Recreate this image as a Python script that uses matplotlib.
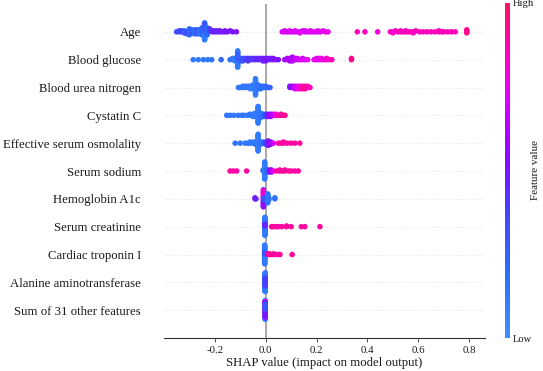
import matplotlib
matplotlib.use("Agg")
import matplotlib.pyplot as plt
import numpy as np
from matplotlib.colors import LinearSegmentedColormap
from matplotlib.cm import ScalarMappable

plt.rcParams['font.family'] = ['Liberation Serif', 'DejaVu Serif']
plt.rcParams['axes.unicode_minus'] = False

# feature names, top row first
features = ["Age", "Blood glucose", "Blood urea nitrogen", "Cystatin C",
            "Effective serum osmolality", "Serum sodium", "Hemoglobin A1c",
            "Serum creatinine", "Cardiac troponin I", "Alanine aminotransferase",
            "Sum of 31 other features"]

# each feature: SHAP value, number of samples at that value, normalised feature value (0 low .. 1 high)
age_shap = [-0.350, -0.340, -0.330, -0.320, -0.310, -0.300, -0.290, -0.280, -0.270, -0.260,
            -0.250, -0.240, -0.240, -0.230, -0.220, -0.210, -0.200, -0.190, -0.180, -0.170,
            -0.160, -0.150, -0.140, -0.130, -0.115,
            0.065, 0.075, 0.085, 0.095, 0.105, 0.115, 0.125, 0.135, 0.145, 0.155,
            0.165, 0.175, 0.185, 0.195, 0.205, 0.215, 0.225, 0.235, 0.245,
            0.360, 0.390, 0.440, 0.490, 0.500, 0.510, 0.520, 0.530, 0.540, 0.550,
            0.560, 0.570, 0.580, 0.590, 0.605, 0.620, 0.635, 0.650, 0.665, 0.680,
            0.690, 0.700, 0.715, 0.730, 0.745, 0.790]
age_count = [1, 2, 2, 3, 3, 4, 4, 5, 5, 5,
             8, 10, 8, 5, 3, 2, 2, 2, 2, 1,
             2, 1, 1, 1, 1,
             1, 2, 1, 2, 1, 2, 1, 2, 1, 2,
             1, 2, 1, 1, 2, 1, 1, 1, 1,
             1, 1, 1, 1, 2, 1, 1, 2, 1, 2,
             1, 1, 2, 1, 1, 1, 1, 1, 1, 2,
             1, 1, 1, 1, 1, 4]
age_value = [0.35, 0.30, 0.40, 0.25, 0.35, 0.20, 0.30, 0.18, 0.28, 0.15,
             0.22, 0.12, 0.30, 0.20, 0.40, 0.45, 0.48, 0.45, 0.50, 0.48,
             0.50, 0.48, 0.50, 0.50, 0.52,
             0.70, 0.72, 0.68, 0.72, 0.70, 0.74, 0.70, 0.72, 0.74, 0.70,
             0.72, 0.75, 0.72, 0.74, 0.72, 0.75, 0.73, 0.76, 0.75,
             0.85, 0.85, 0.80, 0.85, 0.82, 0.85, 0.84, 0.86, 0.84, 0.85,
             0.86, 0.84, 0.85, 0.86, 0.85, 0.86, 0.84, 0.86, 0.85, 0.86,
             0.85, 0.86, 0.85, 0.86, 0.85, 0.92]

bg_shap = [-0.285, -0.265, -0.245, -0.228, -0.212, -0.175, -0.140, -0.130, -0.120, -0.110,
           -0.110, -0.100, -0.090, -0.080, -0.070, -0.060, -0.050, -0.040, -0.030, -0.020,
           -0.010, 0.000, 0.010, 0.020, 0.030, 0.040, 0.050, 0.075, 0.085, 0.095,
           0.105, 0.115, 0.125, 0.135, 0.145, 0.155, 0.165, 0.190, 0.200, 0.210,
           0.220, 0.230, 0.240, 0.250, 0.260, 0.337]
bg_count = [1, 1, 1, 1, 1, 1, 1, 2, 3, 10,
            4, 3, 3, 2, 3, 2, 2, 2, 2, 2,
            3, 3, 2, 2, 2, 1, 1, 1, 2, 3,
            4, 2, 2, 1, 2, 1, 1, 1, 2, 2,
            2, 1, 2, 1, 1, 2]
bg_value = [0.12, 0.12, 0.15, 0.12, 0.15, 0.22, 0.15, 0.15, 0.12, 0.12,
            0.25, 0.25, 0.32, 0.35, 0.40, 0.42, 0.42, 0.45, 0.45, 0.47,
            0.47, 0.50, 0.50, 0.48, 0.50, 0.52, 0.50, 0.58, 0.62, 0.60,
            0.62, 0.65, 0.68, 0.70, 0.70, 0.72, 0.74, 0.75, 0.76, 0.74,
            0.78, 0.80, 0.82, 0.84, 0.86, 0.93]

bun_shap = [-0.107, -0.100, -0.090, -0.080, -0.070, -0.060, -0.050, -0.040, -0.030, -0.020,
            -0.010, 0.000, 0.010, 0.017, 0.095, 0.105, 0.115, 0.125, 0.135, 0.145,
            0.155, 0.165, 0.174]
bun_count = [1, 1, 2, 2, 2, 3, 4, 14, 4, 3, 2, 2, 1, 1, 2, 2, 3, 3, 3, 3, 3, 2, 1]
bun_value = [0.15, 0.15, 0.15, 0.12, 0.15, 0.12, 0.12, 0.12, 0.15, 0.18,
             0.20, 0.20, 0.22, 0.25, 0.50, 0.58, 0.68, 0.75, 0.82, 0.88,
             0.90, 0.88, 0.85]

cys_shap = [-0.153, -0.140, -0.125, -0.108, -0.095, -0.088, -0.075, -0.062, -0.050, -0.040,
            -0.030, -0.020, -0.010, 0.000, 0.010, 0.020, 0.030, 0.040, 0.050, 0.060,
            0.070, 0.076]
cys_count = [1, 1, 1, 1, 1, 1, 1, 2, 3, 4, 16, 5, 3, 3, 3, 3, 2, 2, 1, 2, 1, 1]
cys_value = [0.15, 0.15, 0.12, 0.15, 0.12, 0.15, 0.12, 0.15, 0.12, 0.12,
             0.12, 0.15, 0.20, 0.35, 0.50, 0.58, 0.68, 0.82, 0.86, 0.90,
             0.90, 0.92]

osm_shap = [-0.120, -0.100, -0.081, -0.070, -0.062, -0.050, -0.040, -0.030, -0.020, -0.010,
            0.000, 0.010, 0.020, 0.030, 0.050, 0.060, 0.070, 0.085, 0.100, 0.115, 0.134]
osm_count = [1, 1, 1, 1, 2, 2, 3, 16, 3, 2, 3, 5, 3, 1, 1, 1, 2, 1, 1, 1, 1]
osm_value = [0.15, 0.15, 0.12, 0.15, 0.12, 0.15, 0.12, 0.12, 0.15, 0.20,
             0.40, 0.50, 0.55, 0.70, 0.88, 0.88, 0.90, 0.90, 0.90, 0.90, 0.90]

na_shap = [-0.140, -0.127, -0.114, -0.075, -0.010, -0.004, 0.005, 0.015, 0.022, 0.030,
           0.043, 0.055, 0.065, 0.075, 0.090, 0.100, 0.115, 0.128]
na_count = [1, 1, 1, 1, 2, 18, 3, 3, 3, 1, 1, 2, 1, 2, 1, 1, 1, 1]
na_value = [0.90, 0.90, 0.88, 0.90, 0.15, 0.12, 0.20, 0.50, 0.60, 0.75,
            0.88, 0.90, 0.90, 0.90, 0.90, 0.90, 0.88, 0.90]

hba_shap = [-0.042, -0.038, -0.009, -0.009, -0.006, 0.008, 0.012, 0.036]
hba_count = [2, 1, 10, 8, 3, 10, 3, 2]
hba_value = [0.50, 0.45, 0.55, 0.80, 0.30, 0.15, 0.15, 0.15]

cr_shap = [-0.003, -0.003, 0.023, 0.030, 0.040, 0.050, 0.063, 0.082, 0.100, 0.140, 0.154, 0.213]
cr_count = [24, 4, 1, 1, 1, 1, 1, 2, 1, 1, 1, 1]
cr_value = [0.12, 0.45, 0.90, 0.90, 0.90, 0.88, 0.90, 0.90, 0.90, 0.90, 0.90, 0.90]

ctn_shap = [-0.004, -0.004, 0.010, 0.014, 0.020, 0.030, 0.040, 0.050, 0.056, 0.104]
ctn_count = [26, 3, 2, 2, 1, 2, 1, 1, 1, 1]
ctn_value = [0.12, 0.30, 0.85, 0.90, 0.90, 0.90, 0.90, 0.90, 0.90, 0.90]

alt_shap = [-0.002, -0.002, -0.002]
alt_count = [30, 8, 6]
alt_value = [0.12, 0.25, 0.40]

sum_shap = [-0.002, -0.002, -0.002, -0.002]
sum_count = [14, 10, 8, 6]
sum_value = [0.15, 0.72, 0.50, 0.30]

rows = [(age_shap, age_count, age_value), (bg_shap, bg_count, bg_value),
        (bun_shap, bun_count, bun_value), (cys_shap, cys_count, cys_value),
        (osm_shap, osm_count, osm_value), (na_shap, na_count, na_value),
        (hba_shap, hba_count, hba_value), (cr_shap, cr_count, cr_value),
        (ctn_shap, ctn_count, ctn_value), (alt_shap, alt_count, alt_value),
        (sum_shap, sum_count, sum_value)]

cmap = LinearSegmentedColormap.from_list(
    "shap_like",
    [(0.00, "#3d8fff"), (0.20, "#2b6cff"), (0.40, "#4a3dff"), (0.50, "#7a14ff"),
     (0.60, "#a800ff"), (0.72, "#e000ff"), (0.85, "#ff00c0"), (1.00, "#ff1060")])


def expand(shap, count, value):
    s = np.repeat(np.array(shap, float), count)
    v = np.repeat(np.array(value, float), count)
    rank = np.concatenate([np.arange(c) for c in count])
    return s, v, rank


def swarm(shaps, rank, row_height=0.4, nbins=100):
    # same binning as the shap beeswarm layout
    lo, hi = shaps.min(), shaps.max()
    quant = np.round(nbins * (shaps - lo) / (hi - lo + 1e-8))
    order = np.lexsort((rank, quant))
    ys = np.zeros(len(shaps))
    layer, last = 0, None
    for i in order:
        if quant[i] != last:
            layer = 0
        ys[i] = np.ceil(layer / 2) * ((layer % 2) * 2 - 1)
        layer += 1
        last = quant[i]
    ys *= 0.9 * (row_height / np.max(ys + 1))
    return ys


fig = plt.figure(figsize=(5.43, 3.71), dpi=100)
ax = fig.add_axes([164 / 543, 33 / 371, 321 / 543, 334 / 371])

n = len(features)
for i, (shap, count, value) in enumerate(rows):
    pos = n - 1 - i
    s, v, rank = expand(shap, count, value)
    ys = swarm(s, rank)
    ax.axhline(pos, color="#cccccc", lw=0.5, dashes=(1, 2.5), zorder=-1)
    ax.scatter(s, pos + ys, c=v, cmap=cmap, vmin=0, vmax=1, s=16,
               linewidths=0, zorder=3)

ax.axvline(0, color="#999999", lw=1.2, zorder=-1)
ax.set_xlim(-0.3996, 0.8617)
ax.set_ylim(-1, n)
ax.set_yticks(range(n))
ax.set_yticklabels(features[::-1], fontsize=9.2, color="#1a1a1a")
ax.tick_params(axis="y", length=0, pad=16.5)
ax.set_xticks([-0.2, 0.0, 0.2, 0.4, 0.6, 0.8])
ax.set_xticklabels(["-0.2", "0.0", "0.2", "0.4", "0.6", "0.8"])
ax.tick_params(axis="x", labelsize=7.8, length=3, width=0.6, color="#333333",
               labelcolor="#1a1a1a", pad=2.5)
ax.set_xlabel("SHAP value (impact on model output)", fontsize=9.2, color="#1a1a1a",
              labelpad=2)
for side in ["top", "right", "left"]:
    ax.spines[side].set_visible(False)
ax.spines["bottom"].set_color("#333333")
ax.spines["bottom"].set_linewidth(0.8)

cax = fig.add_axes([504.5 / 543, 33 / 371, 5.5 / 543, 335 / 371])
cb = fig.colorbar(ScalarMappable(cmap=cmap), cax=cax, ticks=[0, 1])
cb.set_ticklabels(["Low", "High"])
cb.outline.set_visible(False)
cax.tick_params(length=0, labelsize=7.6, pad=2, labelcolor="#1a1a1a")
cb.set_label("Feature value", size=8.0, labelpad=-2.5, color="#1a1a1a")

fig.savefig("out.png", dpi=100)
